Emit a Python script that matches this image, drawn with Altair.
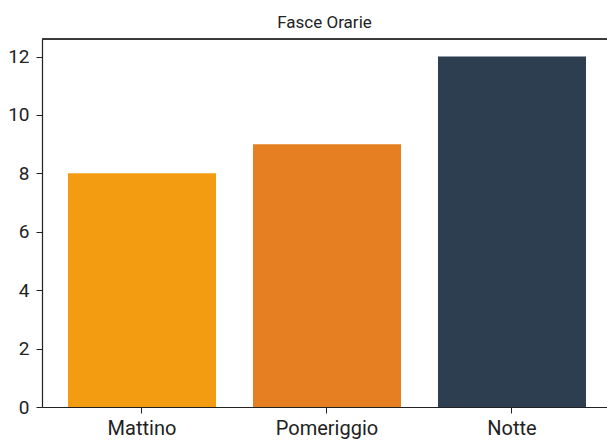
import altair as alt
import pandas as pd

categories = ["Mattino", "Pomeriggio", "Notte"]
values = [8, 9, 12]
colors = ["#f39c12", "#e67e22", "#2c3e50"]
y_ticks = [0, 2, 4, 6, 8, 10, 12]

df = pd.DataFrame({"fascia": categories, "valore": values})

FONT = "Roboto"
W, H = 565, 368

bars = alt.Chart(df).mark_bar().encode(
    x=alt.X("fascia:N", sort=categories, title=None,
            scale=alt.Scale(paddingInner=0.2, paddingOuter=0.127, align=0.553),
            axis=alt.Axis(labelAngle=0, labelFontSize=20, labelFont=FONT, labelColor="#222",
                          tickColor="#222", tickSize=6, domainColor="#222", domainWidth=1.2,
                          labelPadding=5, grid=False)),
    y=alt.Y("valore:Q", title=None,
            scale=alt.Scale(domain=[0, 12.6], nice=False, zero=True),
            axis=alt.Axis(values=y_ticks, labelFontSize=19, labelFont=FONT, labelColor="#222",
                          tickColor="#222", tickSize=6, domainColor="#222", domainWidth=1.2,
                          labelPadding=7, grid=False)),
    color=alt.Color("fascia:N", scale=alt.Scale(domain=categories, range=colors), legend=None),
)

top = alt.Chart(df).mark_rule(color="#222", strokeWidth=1.2).encode(
    x=alt.value(0), x2=alt.value(W), y=alt.value(0)
)

chart = alt.layer(bars, top).properties(
    width=W, height=H,
    title=alt.TitleParams("Fasce Orarie", font=FONT, fontSize=17, fontWeight="normal",
                          color="#222", anchor="middle", offset=6),
    autosize=alt.AutoSizeParams(type="none"),
    padding={"left": 42, "top": 39, "right": 0, "bottom": 34},
).configure_view(stroke=None).configure(background="white")

chart.save("out.html", embed_options={"renderer": "svg", "actions": False})
